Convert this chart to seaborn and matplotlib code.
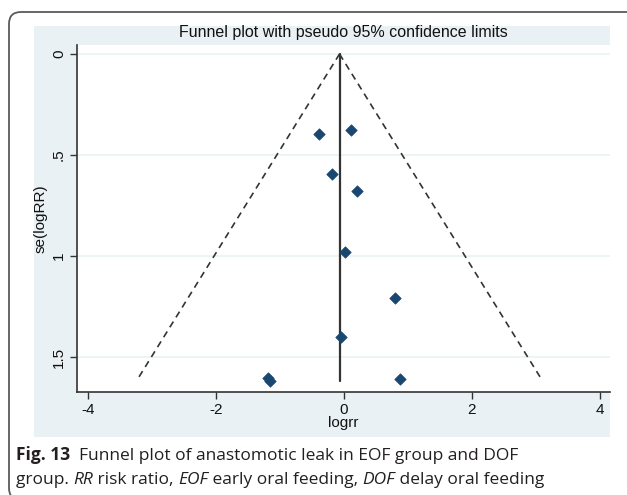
import numpy as np
import pandas as pd
import matplotlib
matplotlib.use("Agg")
import matplotlib.pyplot as plt
import seaborn as sns
from matplotlib.patches import FancyBboxPatch, Rectangle
from matplotlib.transforms import IdentityTransform

# ---- data ----
logrr = [-0.385, 0.11, -0.19, 0.21, 0.016, 0.79, -0.05, -1.18, -1.16, 0.875]
se_logrr = [0.396, 0.378, 0.594, 0.677, 0.98, 1.21, 1.40, 1.605, 1.617, 1.61]
pooled = -0.07
xticks = [-4, -2, 0, 2, 4]
yticks = [0, 0.5, 1, 1.5]
ytick_labels = ["0", ".5", "1", "1.5"]
title = "Funnel plot with pseudo 95% confidence limits"
xlabel = "logrr"
ylabel = "se(logRR)"

df = pd.DataFrame({"logrr": logrr, "se": se_logrr})

sns.set_style("ticks")
plt.rcParams["font.family"] = ["Liberation Sans", "DejaVu Sans"]

W, H = 627, 495
fig = plt.figure(figsize=(W / 100, H / 100), dpi=100)
fig.patch.set_facecolor("white")

def fx(px):
    return px / W

def fy(py):
    return 1 - py / H

# outer rounded frame (pixel coords, origin bottom-left)
frame = FancyBboxPatch((9, H - 500), 650, 500 - 12,
                       boxstyle="round,pad=0,rounding_size=12",
                       transform=IdentityTransform(), fill=False,
                       edgecolor="#5a5a5a", linewidth=1.3, zorder=-10)
fig.patches.append(frame)

# light graph region
region_top, region_bot = 26, 437
graph = Rectangle((fx(34), fy(region_bot)), fx(610) - fx(34), fy(region_top) - fy(region_bot),
                  transform=fig.transFigure, facecolor="#e9f1f4", edgecolor="none", zorder=-10)
fig.patches.append(graph)

ax_l, ax_r, ax_t, ax_b = 77, 610, 45, 392
ax = fig.add_axes([fx(ax_l), fy(ax_b), fx(ax_r) - fx(ax_l), fy(ax_t) - fy(ax_b)])
ax.set_facecolor("white")

# funnel lines
se_max = max(se_logrr)
lo = pooled - 1.96 * se_max
hi = pooled + 1.96 * se_max
ax.plot([pooled, lo], [0, se_max], color="#333333", lw=1.2, ls=(0, (4, 3)), zorder=2)
ax.plot([pooled, hi], [0, se_max], color="#333333", lw=1.2, ls=(0, (4, 3)), zorder=2)
ax.plot([pooled, pooled], [0, se_max], color="#333333", lw=1.6, zorder=2)

sns.scatterplot(data=df, x="logrr", y="se", ax=ax, marker="D", s=34,
                color="#1a476f", edgecolor="#1a476f", linewidth=0.5, zorder=3)

x0 = -4 - 11 / 64
x1 = 4 + 10 / 64
ax.set_xlim(x0, x1)
ax.set_ylim(338 / 202, -9 / 202)

ax.set_xticks(xticks)
ax.set_xticklabels([str(t) for t in xticks])
ax.set_yticks(yticks)
ax.set_yticklabels(ytick_labels, rotation=90, va="center")
for t in yticks:
    ax.axhline(t, color="#eaf2f3", lw=1.2, zorder=1)

for s in ["top", "right"]:
    ax.spines[s].set_visible(False)
for s in ["left", "bottom"]:
    ax.spines[s].set_color("#333333")
    ax.spines[s].set_linewidth(1.2)
ax.tick_params(axis="both", direction="out", length=5, width=1.0, color="#333333",
               labelsize=11, labelcolor="#111111")
ax.tick_params(axis="x", pad=3)
ax.tick_params(axis="y", pad=3)
ax.set_xlabel(xlabel, fontsize=11, color="#111111", labelpad=-1)
ax.set_ylabel(ylabel, fontsize=11, color="#111111", labelpad=3)

fig.text(fx(343.5), fy(33), title, ha="center", va="center", fontsize=11.5, color="#111111")

# caption with mixed styles
cap_font = ["Open Sans", "DejaVu Sans"]
cap_size = 12.5
fig.canvas.draw()
renderer = fig.canvas.get_renderer()

def run(pieces, x_px, y_px):
    x = x_px
    for txt, weight, style in pieces:
        t = fig.text(fx(x), fy(y_px), txt, ha="left", va="baseline", fontsize=cap_size,
                     family=cap_font, weight=weight, style=style, color="#231f20")
        bb = t.get_window_extent(renderer=renderer)
        x += bb.width

run([("Fig. 13", "bold", "normal"),
     ("  Funnel plot of anastomotic leak in EOF group and DOF", "normal", "normal")], 16, 460)
run([("group. ", "normal", "normal"), ("RR", "normal", "italic"),
     (" risk ratio, ", "normal", "normal"), ("EOF", "normal", "italic"),
     (" early oral feeding, ", "normal", "normal"), ("DOF", "normal", "italic"),
     (" delay oral feeding", "normal", "normal")], 16, 484)

fig.savefig("out.png", dpi=100)
